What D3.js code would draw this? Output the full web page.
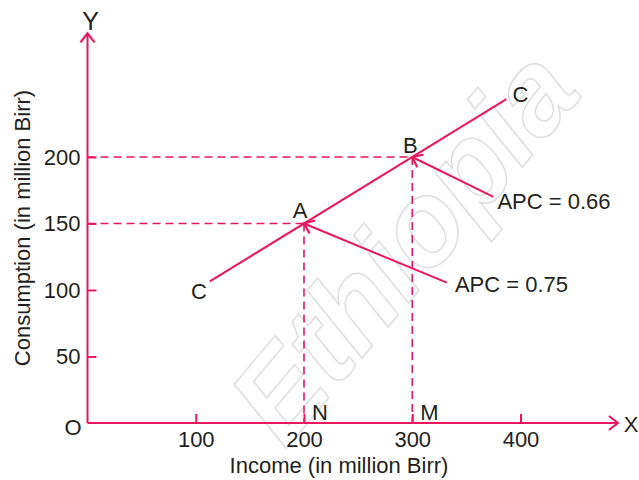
<!DOCTYPE html>
<html><head><meta charset="utf-8">
<script src="https://cdn.jsdelivr.net/npm/d3@7"></script>
<style>
html,body{margin:0;padding:0;background:#fff;}
svg text{font-family:"Liberation Sans",Arial,Helvetica,sans-serif;fill:#231f20;}
</style></head>
<body>
<svg id="chart" width="639" height="480"></svg>
<script>
// ---- data ----
const xTicks = [100, 200, 300, 400];
const yTicks = [50, 100, 150, 200];
const points = [{name:"A", income:200, consumption:150, foot:"N"},
                {name:"B", income:300, consumption:200, foot:"M"}];
const ccIncome = [113, 387];
const ccConsumption = [106.5, 243.5];
const apcLabels = [{text:"APC = 0.75", to:"A", income:332, consumption:105.5},
                   {text:"APC = 0.66", to:"B", income:375, consumption:170}];
const xTitle = "Income (in million Birr)";
const yTitle = "Consumption (in million Birr)";
const watermark = "Ethiopia";

const col = "#e8185c";
const fs = 22;
const svg = d3.select("#chart");
const x = d3.scaleLinear().domain([0, 400]).range([87.5, 520.5]);
const y = d3.scaleLinear().domain([0, 200]).range([423, 157]);

// watermark
svg.append("text").attr("x", 0).attr("y", 0)
  .attr("transform", "translate(285,450) rotate(-50)")
  .attr("font-size", 118).attr("font-weight", "bold").attr("font-style","italic")
  .style("fill", "none").attr("stroke", "#dedede").attr("stroke-width", 1.5)
  .text(watermark);

// markers
const defs = svg.append("defs");
defs.append("marker").attr("id", "arr").attr("viewBox", "-12 -9 14 18")
  .attr("refX", 0).attr("refY", 0).attr("markerWidth", 14).attr("markerHeight", 18)
  .attr("markerUnits", "userSpaceOnUse").attr("orient", "auto")
  .append("path").attr("d", "M-9,-7 L0,0 L-9,7").attr("fill", "none")
  .attr("stroke", col).attr("stroke-width", 2.2);

// axes
const xAxis = d3.axisBottom(x).tickValues(xTicks).tickSizeInner(-9).tickSizeOuter(0).tickPadding(8);
const gx = svg.append("g").attr("transform", `translate(0,${y(0)})`).call(xAxis);
const yAxis = d3.axisLeft(y).tickValues(yTicks).tickSizeInner(-9).tickSizeOuter(0).tickPadding(7);
const gy = svg.append("g").attr("transform", `translate(${x(0)},0)`).call(yAxis);
[gx, gy].forEach(g => {
  g.select(".domain").remove();
  g.selectAll(".tick line").attr("stroke", col).attr("stroke-width", 2);
  g.selectAll(".tick text").attr("font-size", fs).style("fill", "#231f20")
    .attr("font-family", "Liberation Sans, Arial, sans-serif");
});

// dashed guides
points.forEach(p => {
  svg.append("line").attr("x1", x(0)).attr("x2", x(p.income))
    .attr("y1", y(p.consumption)).attr("y2", y(p.consumption))
    .attr("stroke", col).attr("stroke-width", 1.6).attr("stroke-dasharray", "8,5");
  svg.append("line").attr("x1", x(p.income)).attr("x2", x(p.income))
    .attr("y1", y(p.consumption)).attr("y2", y(0))
    .attr("stroke", col).attr("stroke-width", 1.6).attr("stroke-dasharray", "8,5");
});

// axis lines with arrows
svg.append("line").attr("x1", x(0)).attr("y1", y(0)).attr("x2", x(490)).attr("y2", y(0))
  .attr("stroke", col).attr("stroke-width", 2).attr("marker-end", "url(#arr)");
svg.append("line").attr("x1", x(0)).attr("y1", y(0)).attr("x2", x(0)).attr("y2", y(293))
  .attr("stroke", col).attr("stroke-width", 2).attr("marker-end", "url(#arr)");

// CC line
const line = d3.line().x(d => x(d[0])).y(d => y(d[1]));
svg.append("path").datum(d3.zip(ccIncome, ccConsumption)).attr("d", line)
  .attr("fill", "none").attr("stroke", col).attr("stroke-width", 2);

// APC arrows
const apcOffsets = [[8, 9], [4, 12]];
apcLabels.forEach((a, i) => {
  const p = points.find(q => q.name === a.to);
  svg.append("line").attr("x1", x(a.income)).attr("y1", y(a.consumption))
    .attr("x2", x(p.income)).attr("y2", y(p.consumption))
    .attr("stroke", col).attr("stroke-width", 2).attr("marker-end", "url(#arr)");
  svg.append("text").attr("x", x(a.income) + apcOffsets[i][0]).attr("y", y(a.consumption) + apcOffsets[i][1])
    .attr("font-size", fs).text(a.text);
});

// labels
const lab = (t, px, py, anchor) => svg.append("text").attr("x", px).attr("y", py)
  .attr("font-size", fs).attr("text-anchor", anchor || "middle").text(t);
const ptOffsets = [[-4, -5.5], [-2, -4]];
points.forEach((p, i) => {
  lab(p.name, x(p.income) + ptOffsets[i][0], y(p.consumption) + ptOffsets[i][1]);
  lab(p.foot, x(p.income) + 8, y(0) - 3, "start");
});
lab("C", x(ccIncome[0]) - 11, y(ccConsumption[0]) + 18);
lab("C", x(ccIncome[1]) + 14, y(ccConsumption[1]) + 3);
lab("O", 73, y(0) + 12);
lab("X", 631, y(0) + 9);
lab("Y", x(0) + 3, 30).attr("font-size", 25);
lab(xTitle, 339, 473);
svg.append("text").attr("transform", `translate(30,228) rotate(-90)`)
  .attr("text-anchor", "middle").attr("font-size", fs).text(yTitle);
</script>
</body></html>
